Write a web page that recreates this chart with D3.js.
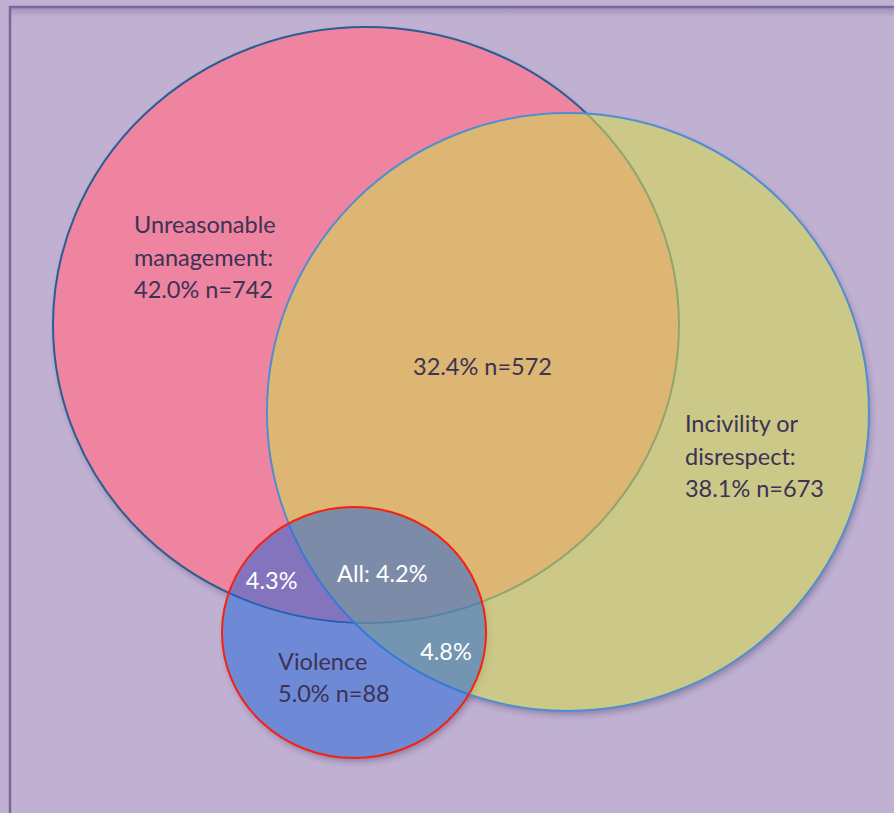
<!DOCTYPE html>
<html>
<head>
<meta charset="utf-8">
<script src="https://cdn.jsdelivr.net/npm/d3@7"></script>
<style>
  html, body { margin: 0; padding: 0; background: #c0b1d3; }
  svg { display: block; }
</style>
</head>
<body>
<div id="chart"></div>
<script>
// Survey categories (sets) and their shares
const setNames   = ["Unreasonable management:", "Incivility or disrespect:", "Violence"];
const setPct     = [42.0, 38.1, 5.0];
const setCount   = [742, 673, 88];

// Overlap regions
const overlapKeys  = ["UM+ID", "UM+V", "ID+V", "All"];
const overlapPct   = [32.4, 4.3, 4.8, 4.2];
const overlapCount = [572, null, null, null];

// Drawing layout (in a 0..100 unit space mapped through scales)
const layout = {
  ellipses: [
    { cx: 40.94, cy: 39.98, rx: 35.01, ry: 36.65 },
    { cx: 63.53, cy: 50.68, rx: 33.67, ry: 36.78 },
    { cx: 39.60, cy: 77.80, rx: 14.77, ry: 15.44 }
  ],
  setLabelPos: [[14.99, 28.66], [76.62, 53.14], [31.10, 82.41]],
  overlapLabelPos: [[46.20, 46.10], [27.50, 72.45], [47.0, 81.18], [37.70, 71.59]]
};

const W = 894, H = 813;
const x = d3.scaleLinear().domain([0, 100]).range([0, W]);
const y = d3.scaleLinear().domain([0, 100]).range([0, H]);

const svg = d3.select("#chart").append("svg")
  .attr("width", W).attr("height", H)
  .attr("viewBox", `0 0 ${W} ${H}`);

const defs = svg.append("defs");
const shadow = defs.append("filter").attr("id", "shadow")
  .attr("x", "-10%").attr("y", "-10%").attr("width", "130%").attr("height", "130%");
shadow.append("feDropShadow")
  .attr("dx", 2).attr("dy", 4).attr("stdDeviation", 3)
  .attr("flood-color", "#3a2a55").attr("flood-opacity", 0.35);

const topShade = defs.append("linearGradient").attr("id", "topShade")
  .attr("x1", 0).attr("y1", 0).attr("x2", 0).attr("y2", 1);
topShade.append("stop").attr("offset", 0).attr("stop-color", "#7a6a96").attr("stop-opacity", 0.45);
topShade.append("stop").attr("offset", 1).attr("stop-color", "#7a6a96").attr("stop-opacity", 0);

// Background and frame
svg.append("rect").attr("width", W).attr("height", H).attr("fill", "#c0b1d3");
svg.append("rect").attr("x", 11).attr("y", 8).attr("width", W).attr("height", 9)
  .attr("fill", "url(#topShade)");
svg.append("rect").attr("x", 10).attr("y", 7).attr("width", W + 20).attr("height", H + 20)
  .attr("fill", "none").attr("stroke", "#7a6799").attr("stroke-width", 2.5);

const fills   = ["#ee84a0", "rgb(210,215,86)", "rgb(35,102,217)"];
const opac    = [1, 0.6, 0.52];
const strokes = ["#2a5d91", "#4f8fd0", "#f5220f"];

const shapes = layout.ellipses.map((e, i) => ({
  name: setNames[i], pct: setPct[i], n: setCount[i], ...e,
  fill: fills[i], opacity: opac[i], stroke: strokes[i]
}));

// Shadows beneath each set
svg.append("g").selectAll("ellipse.sh").data(shapes).join("ellipse")
  .attr("cx", d => x(d.cx)).attr("cy", d => y(d.cy))
  .attr("rx", d => x(d.rx)).attr("ry", d => y(d.ry))
  .attr("fill", "#c0b1d3")
  .attr("filter", "url(#shadow)");

const g = svg.append("g");
shapes.forEach(d => {
  g.append("ellipse")
    .attr("cx", x(d.cx)).attr("cy", y(d.cy))
    .attr("rx", x(d.rx)).attr("ry", y(d.ry))
    .attr("fill", d.fill).attr("fill-opacity", d.opacity)
    .attr("stroke", d.stroke).attr("stroke-width", 2);
});

const fontFamily = "Lato, 'Open Sans', sans-serif";
const fs = 23.5, lh = 32.5;

// Set labels
const setLines = shapes.map(d => {
  const words = d.name.split(" ");
  let lines;
  if (words.length === 1) lines = [d.name];
  else if (words.length === 2) lines = words;
  else lines = [words.slice(0, 2).join(" "), words.slice(2).join(" ")];
  lines.push(`${d.pct.toFixed(1)}% n=${d.n}`);
  return lines;
});

setLines.forEach((lines, i) => {
  const [px, py] = layout.setLabelPos[i];
  const t = svg.append("text")
    .attr("x", x(px)).attr("y", y(py))
    .attr("font-family", fontFamily).attr("font-size", fs)
    .attr("fill", "#3b3254");
  lines.forEach((ln, j) => {
    t.append("tspan").attr("x", x(px)).attr("dy", j === 0 ? 0 : lh).text(ln);
  });
});

// Overlap labels
overlapKeys.forEach((k, i) => {
  const [px, py] = layout.overlapLabelPos[i];
  let txt = `${overlapPct[i].toFixed(1)}%`;
  if (overlapCount[i] != null) txt += ` n=${overlapCount[i]}`;
  if (k === "All") txt = `All: ${txt}`;
  svg.append("text")
    .attr("x", x(px)).attr("y", y(py))
    .attr("font-family", fontFamily).attr("font-size", fs)
    .attr("fill", k === "UM+ID" ? "#3b3254" : "#ffffff")
    .text(txt);
});
</script>
</body>
</html>
